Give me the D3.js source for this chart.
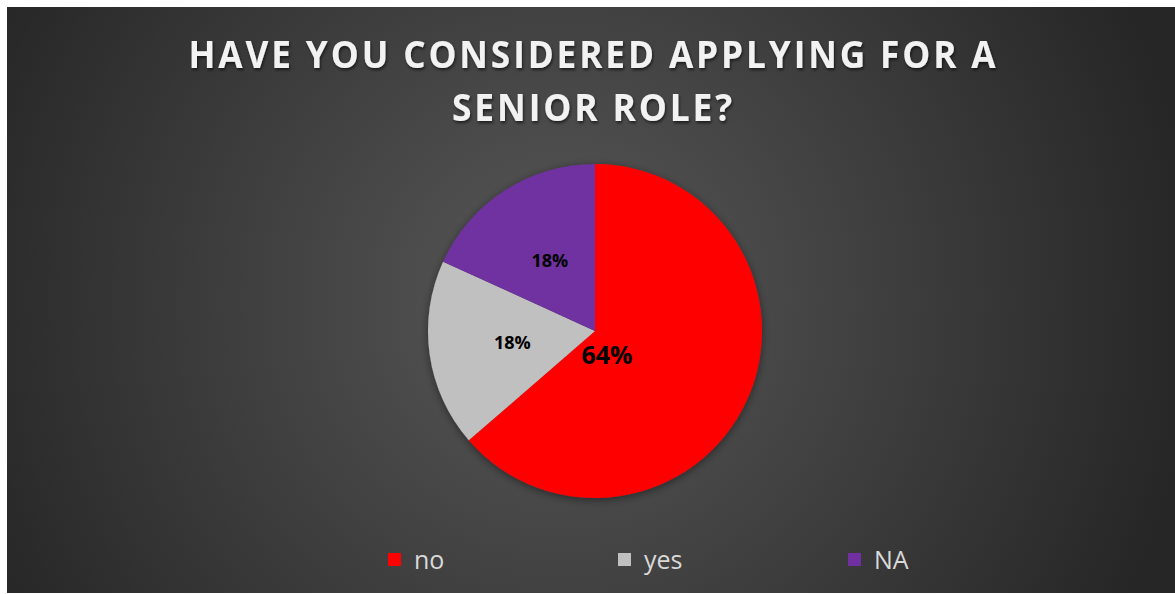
<!DOCTYPE html>
<html>
<head>
<meta charset="utf-8">
<script src="https://cdn.jsdelivr.net/npm/d3@7"></script>
<style>
  body { margin: 0; background: #fff; }
  svg { display: block; }
</style>
</head>
<body>
<div class="container"></div>
<script>
// chart data
var categories = ["no", "yes", "NA"];
var counts = [7, 2, 2];
var colors = ["#FF0000", "#C0C0C0", "#7030A0"];
var titleLines = ["HAVE YOU CONSIDERED APPLYING FOR A", "SENIOR ROLE?"];

var width = 1175, height = 594;

var svg = d3.select(".container").append("svg")
    .attr("width", width)
    .attr("height", height);

var defs = svg.append("defs");

// dark radial background
var grad = defs.append("radialGradient")
    .attr("id", "bg")
    .attr("gradientUnits", "userSpaceOnUse")
    .attr("cx", 560).attr("cy", 300).attr("r", 640);
grad.append("stop").attr("offset", "0%").attr("stop-color", "#585858");
grad.append("stop").attr("offset", "100%").attr("stop-color", "#262626");

var shadow = defs.append("filter").attr("id", "pieShadow")
    .attr("x", "-20%").attr("y", "-20%").attr("width", "140%").attr("height", "140%");
shadow.append("feDropShadow")
    .attr("dx", 0).attr("dy", 2).attr("stdDeviation", 4)
    .attr("flood-color", "#000").attr("flood-opacity", 0.45);

var tshadow = defs.append("filter").attr("id", "txtShadow")
    .attr("x", "-5%").attr("y", "-30%").attr("width", "110%").attr("height", "160%");
tshadow.append("feDropShadow")
    .attr("dx", 1).attr("dy", 2).attr("stdDeviation", 1.5)
    .attr("flood-color", "#000").attr("flood-opacity", 0.6);

svg.append("rect")
    .attr("x", 7).attr("y", 7)
    .attr("width", width - 7).attr("height", height - 8)
    .attr("fill", "url(#bg)");

// title
var title = svg.append("g").attr("filter", "url(#txtShadow)");
title.selectAll("text")
  .data(titleLines)
  .enter().append("text")
    .attr("x", width / 2 + 6)
    .attr("y", function(d, i) { return 68 + i * 53; })
    .attr("text-anchor", "middle")
    .attr("textLength", function(d, i) { return i == 0 ? 810 : 283; })
    .attr("lengthAdjust", "spacingAndGlyphs")
    .style("font-family", "'Open Sans', sans-serif")
    .style("font-weight", "bold")
    .style("font-size", "37px")
    .style("letter-spacing", "3px")
    .style("fill", "#f2f2f2")
    .text(function(d) { return d; });

// pie
var cx = 595, cy = 331, radius = 167;
var total = d3.sum(counts);

var pie = d3.pie().sort(null).value(function(d) { return d; });
var arcs = pie(counts);
var arc = d3.arc().innerRadius(0).outerRadius(radius);
var labelArc = d3.arc().innerRadius(radius * 0.5).outerRadius(radius * 0.5);

var g = svg.append("g").attr("transform", "translate(" + cx + "," + cy + ")");

g.append("g").attr("filter", "url(#pieShadow)")
  .selectAll("path")
  .data(arcs)
  .enter().append("path")
    .attr("d", arc)
    .attr("fill", function(d, i) { return colors[i]; });

g.selectAll(".lbl")
  .data(arcs)
  .enter().append("text")
    .attr("class", "lbl")
    .attr("transform", function(d, i) {
      // biggest slice label sits near the centre, like Excel's best fit
      if (i == 0) return "translate(12,24)";
      return "translate(" + labelArc.centroid(d) + ")";
    })
    .attr("dy", ".35em")
    .attr("text-anchor", "middle")
    .style("font-family", "'Open Sans', sans-serif")
    .style("font-weight", "bold")
    .style("font-size", function(d, i) { return i == 0 ? "25px" : "18px"; })
    .style("fill", "#000")
    .text(function(d) { return Math.round(d.value / total * 100) + "%"; });

// legend
var legendX = d3.scalePoint().domain(categories).range([388, 848]);
var leg = svg.selectAll(".leg")
  .data(categories)
  .enter().append("g")
    .attr("class", "leg")
    .attr("transform", function(d) { return "translate(" + legendX(d) + ",553)"; });
leg.append("rect")
    .attr("width", 13).attr("height", 13)
    .attr("fill", function(d, i) { return colors[i]; });
leg.append("text")
    .attr("x", 26).attr("y", 16)
    .style("font-family", "'Open Sans', sans-serif")
    .style("font-size", "25px")
    .style("fill", "#d9d9d9")
    .text(function(d) { return d; });
</script>
</body>
</html>
